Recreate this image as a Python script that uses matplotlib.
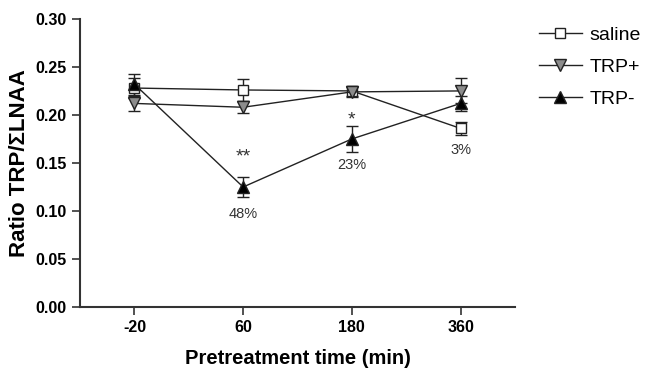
import matplotlib
matplotlib.use('Agg')
import matplotlib.pyplot as plt
from matplotlib.lines import Line2D
import numpy as np

plt.rcParams['font.family'] = ['Liberation Sans', 'DejaVu Sans']

# Data
times = ['-20', '60', '180', '360']
saline = [0.228, 0.226, 0.225, 0.186]
saline_err = [0.010, 0.011, 0.005, 0.007]
trp_plus = [0.212, 0.208, 0.224, 0.225]
trp_plus_err = [0.008, 0.006, 0.005, 0.013]
trp_minus = [0.232, 0.125, 0.175, 0.212]
trp_minus_err = [0.011, 0.010, 0.014, 0.008]

# annotations: (time index, y, text)
stars = [(1, 0.156, '**'), (2, 0.195, '*')]
pct = [(1, 0.097, '48%'), (2, 0.148, '23%'), (3, 0.164, '3%')]

fig = plt.figure(figsize=(6.46, 3.70), dpi=100)
ax = fig.add_axes([0.124, 0.170, 0.673, 0.779])

x = np.arange(len(times))
ec = '#222222'
common = dict(color=ec, lw=1.0, capsize=4.5, elinewidth=1.0, capthick=1.0,
              markeredgecolor=ec, markeredgewidth=1.0)
styles = [('saline', saline, saline_err, 's', 7, 'white'),
          ('TRP+', trp_plus, trp_plus_err, 'v', 9, '#8c8c8c'),
          ('TRP-', trp_minus, trp_minus_err, '^', 8, 'black')]
handles = []
for name, vals, err, m, ms, fc in styles:
    ax.errorbar(x, vals, yerr=err, marker=m, ms=ms, mfc=fc, **common)
    handles.append(Line2D([], [], color=ec, lw=1.0, marker=m, ms=ms, mfc=fc,
                          mec=ec, mew=1.0, label=name))

for i, y, t in stars:
    ax.text(x[i], y, t, ha='center', va='center', fontsize=14, color='#333333')
for i, y, t in pct:
    ax.text(x[i], y, t, ha='center', va='center', fontsize=10.5, color='#333333')

ax.set_xlim(-0.5, 3.5)
ax.set_ylim(0, 0.30)
ax.set_xticks(x)
ax.set_xticklabels(times)
ax.set_yticks(np.arange(0, 0.31, 0.05))
ax.set_yticklabels(['%.2f' % v for v in np.arange(0, 0.31, 0.05)])
for lab in ax.get_xticklabels() + ax.get_yticklabels():
    lab.set_fontweight('bold')
    lab.set_fontsize(11.5)
ax.tick_params(direction='out', length=6, width=1.2, color='#333333')

ax.spines['top'].set_visible(False)
ax.spines['right'].set_visible(False)
for s in ['left', 'bottom']:
    ax.spines[s].set_linewidth(1.5)
    ax.spines[s].set_color('#333333')

ax.set_xlabel('Pretreatment time (min)', fontsize=14.5, fontweight='bold', labelpad=10)
ax.set_ylabel('Ratio TRP/\u03a3LNAA', fontsize=16, fontweight='bold', labelpad=4)

ax.legend(handles=handles, loc='upper left', bbox_to_anchor=(1.015, 1.035),
          frameon=False, fontsize=14, handlelength=2.2, labelspacing=0.75,
          handletextpad=0.4, borderaxespad=0.5)

fig.savefig('out.png', dpi=100)
